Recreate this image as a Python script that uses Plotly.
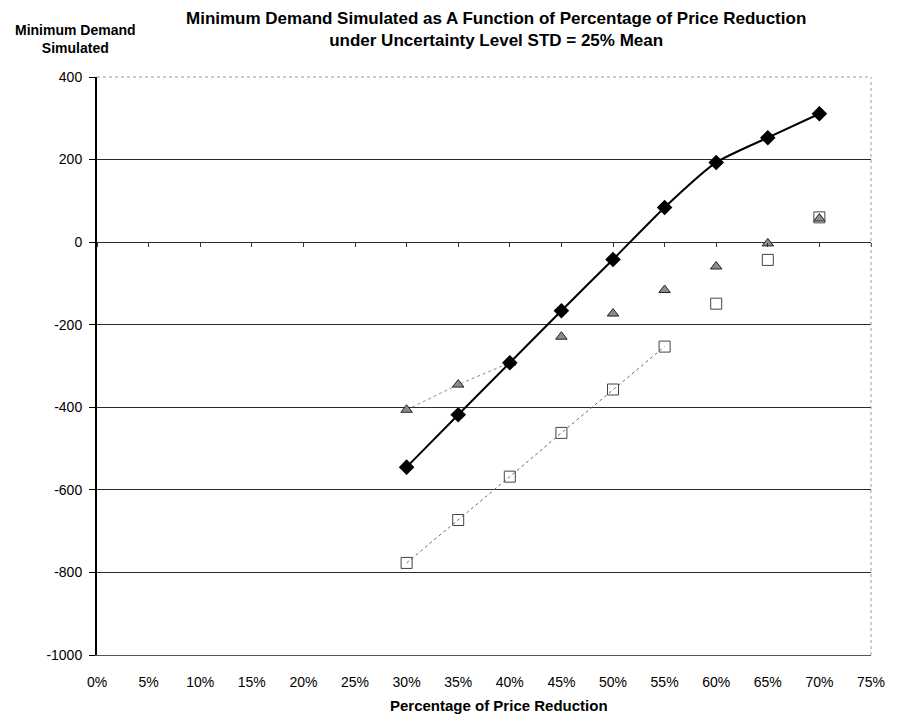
import plotly.graph_objects as go

# Percentage of price reduction (%)
reduction_pct = [30, 35, 40, 45, 50, 55, 60, 65, 70]

# Minimum demand simulated for each scenario
demand_diamond = [-545, -418, -292, -166, -42, 84, 193, 253, 311]
demand_triangle = [-406, -345, -292, -229, -173, -116, -59, -3, 57]
demand_square = [-777, -673, -568, -462, -357, -253, -149, -43, 60]

x_ticks = list(range(0, 80, 5))
y_ticks = list(range(-1000, 401, 200))

title_text = ("Minimum Demand Simulated as A Function of Percentage of Price Reduction<br>"
              "under Uncertainty Level STD = 25% Mean")
y_title = "Minimum Demand<br>Simulated"
x_title = "Percentage of Price Reduction"

FONT = "Liberation Sans, Arial, sans-serif"

fig = go.Figure()

# Triangle series: dotted connector over the first points, markers for all
fig.add_trace(go.Scatter(
    x=reduction_pct[:3], y=demand_triangle[:3], mode="lines",
    line=dict(color="#8a8a8a", width=1, dash="dot"),
    showlegend=False, hoverinfo="skip"))
fig.add_trace(go.Scatter(
    x=reduction_pct, y=demand_triangle, mode="markers",
    marker=dict(symbol="triangle-up", size=10, color="#8c8c8c",
                line=dict(color="#222222", width=1)),
    showlegend=False))

# Square series: dotted connector and open squares
fig.add_trace(go.Scatter(
    x=reduction_pct[:6], y=demand_square[:6], mode="lines",
    line=dict(color="#6a6a6a", width=1, dash="dot"),
    showlegend=False, hoverinfo="skip"))
fig.add_trace(go.Scatter(
    x=reduction_pct, y=demand_square, mode="markers",
    marker=dict(symbol="square-open", size=11, color="#444444",
                line=dict(width=1)),
    showlegend=False))

# Diamond series: smoothed solid line with filled diamonds
fig.add_trace(go.Scatter(
    x=reduction_pct, y=demand_diamond, mode="lines+markers",
    line=dict(color="black", width=2, shape="spline", smoothing=0.6),
    marker=dict(symbol="diamond", size=12, color="black"),
    showlegend=False))

# Category axis crossing at zero, drawn as tick marks along that line
fig.add_trace(go.Scatter(x=[None], y=[None], xaxis="x2", showlegend=False))

fig.update_layout(
    width=897, height=719,
    margin=dict(l=97, r=21, t=77, b=64),
    paper_bgcolor="white", plot_bgcolor="white",
    font=dict(family=FONT, size=13, color="black"),
    xaxis=dict(range=[0, 75], tickvals=x_ticks,
               ticktext=[f"{v}%" for v in x_ticks],
               showgrid=False, zeroline=False, showline=True,
               linecolor="#555555", linewidth=1, mirror=False,
               ticks="", ticklabelstandoff=14,
               tickfont=dict(size=14, family=FONT)),
    xaxis2=dict(range=[0, 75], tickvals=x_ticks, overlaying="x",
                anchor="free", position=1000 / 1400, side="bottom",
                showticklabels=False, showgrid=False, zeroline=False,
                showline=False, ticks="outside", ticklen=4, tickcolor="#333333"),
    yaxis=dict(range=[-1000, 400], tickvals=y_ticks,
               ticktext=[str(v) for v in y_ticks],
               showgrid=True, gridcolor="#2a2a2a", gridwidth=1,
               zeroline=False, showline=True, linecolor="black", linewidth=2,
               ticks="outside", ticklen=6, tickcolor="black",
               ticklabelstandoff=4,
               tickfont=dict(size=14, family=FONT)),
    annotations=[
        dict(text="<b>" + title_text + "</b>", xref="paper", yref="paper",
             x=0.516, y=1.083, xanchor="center", yanchor="middle",
             showarrow=False, font=dict(size=17, family=FONT)),
        dict(text="<b>" + y_title + "</b>", xref="paper", yref="paper",
             x=-0.028, y=1.066, xanchor="center", yanchor="middle",
             showarrow=False, font=dict(size=14, family=FONT)),
        dict(text="<b>" + x_title + "</b>", xref="paper", yref="paper",
             x=0.52, y=-0.087, xanchor="center", yanchor="middle",
             showarrow=False, font=dict(size=15, family=FONT)),
    ],
    shapes=[
        # light dotted frame at the top and right of the plot area
        dict(type="line", xref="paper", yref="paper", x0=0, x1=1, y0=1, y1=1,
             line=dict(color="#9a9a9a", width=1, dash="dot")),
        dict(type="line", xref="paper", yref="paper", x0=1, x1=1, y0=0, y1=1,
             line=dict(color="#9a9a9a", width=1, dash="dot")),
    ],
)

fig.write_html("out.html")
